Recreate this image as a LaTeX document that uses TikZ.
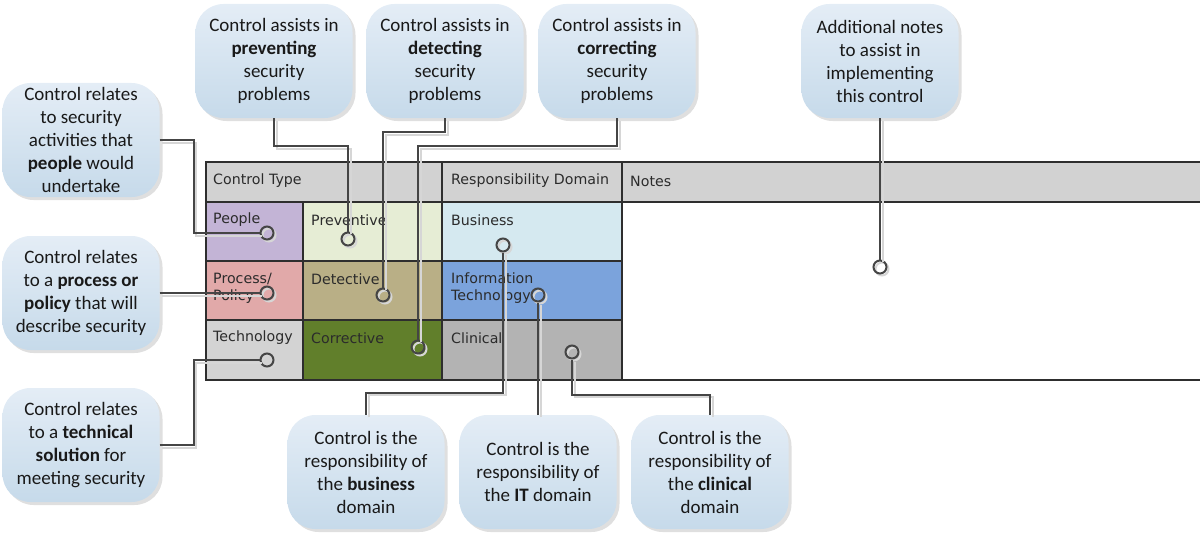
\documentclass[tikz,border=0pt]{standalone}
\usepackage{fontspec}
\setmainfont{Carlito}
\newfontfamily\tablefont{DejaVu Sans}
\usepackage{tikz}
\usetikzlibrary{shadows}
\definecolor{notetop}{HTML}{E4EDF6}
\definecolor{notebottom}{HTML}{C6DAEA}
\definecolor{wiregray}{HTML}{454545}
\definecolor{shadegray}{HTML}{D6D6D6}
\definecolor{gridgray}{HTML}{2E2E2E}
\definecolor{textgray}{HTML}{2B2B2B}
\definecolor{hdrgray}{HTML}{D2D2D2}
\definecolor{peoplefill}{HTML}{C3B4D6}
\definecolor{prevfill}{HTML}{E6EDD5}
\definecolor{busfill}{HTML}{D5E9F0}
\definecolor{procfill}{HTML}{E1A9A9}
\definecolor{detfill}{HTML}{B9AF86}
\definecolor{itfill}{HTML}{7BA3DC}
\definecolor{techfill}{HTML}{D3D3D3}
\definecolor{corrfill}{HTML}{617F2B}
\definecolor{clinfill}{HTML}{B3B3B3}
\tikzstyle{notebox} = [rectangle,rounded corners=28pt,minimum width=157pt,minimum height=114pt,inner sep=2pt,align=center,top color=notetop,bottom color=notebottom,draw=none,text=black!90,font=\fontsize{19}{23}\selectfont,drop shadow={shadow xshift=3pt,shadow yshift=-3pt,opacity=0.25,fill=black!50}]
\tikzstyle{spot} = [circle,draw=wiregray,line width=2pt,minimum size=13pt,inner sep=0pt,preaction={draw=shadegray,transform canvas={shift={(2pt,-2pt)}}}]
\tikzstyle{wire} = [draw=wiregray,line width=2pt,preaction={draw=shadegray,line width=2pt,transform canvas={shift={(2.5pt,-2.5pt)}}}]
\tikzstyle{grid} = [draw=gridgray,line width=1.3pt]
\tikzstyle{celltext} = [anchor=west,inner sep=0pt,align=left,text=textgray,font=\tablefont\fontsize{14.2}{17}\selectfont]

\begin{document}
\begin{tikzpicture}[x=1pt,y=-1pt]
\useasboundingbox (0,0) rectangle (1200,535);

% table cells
\fill[hdrgray] (206,162) rectangle (1200,202);
\fill[peoplefill] (206,202) rectangle (303,261);
\fill[prevfill] (303,202) rectangle (442,261);
\fill[busfill] (442,202) rectangle (622,261);
\fill[procfill] (206,261) rectangle (303,320);
\fill[detfill] (303,261) rectangle (442,320);
\fill[itfill] (442,261) rectangle (622,320);
\fill[techfill] (206,320) rectangle (303,380);
\fill[corrfill] (303,320) rectangle (442,380);
\fill[clinfill] (442,320) rectangle (622,380);

\draw[grid] (1200,162) -- (206,162) -- (206,380) -- (1200,380);
\draw[grid] (206,202) -- (1200,202);
\draw[grid] (206,261) -- (622,261);
\draw[grid] (206,320) -- (622,320);
\draw[grid] (303,202) -- (303,380);
\draw[grid] (442,162) -- (442,380);
\draw[grid] (622,162) -- (622,380);

\node (tType)  [celltext] at (213,181) {Control Type};
\node (tResp)  [celltext] at (451,181) {Responsibility Domain};
\node (tNotes) [celltext] at (630,181) {Notes};
\node (tPeople) [celltext] at (213,220) {People};
\node (tPrev)   [celltext] at (311,220) {Preventive};
\node (tBus)    [celltext] at (451,220) {Business};
\node (tProc)   [celltext] at (213,288) {Process/\\Policy};
\node (tDet)    [celltext] at (311,279) {Detective};
\node (tIT)     [celltext] at (451,288) {Information\\Technology};
\node (tTech)   [celltext] at (213,338) {Technology};
\node (tCorr)   [celltext] at (311,338) {Corrective};
\node (tClin)   [celltext] at (451,338) {Clinical};

% callouts
\node (cPeople) [notebox] at (81,140) {Control relates\\to security\\activities that\\\textbf{people} would\\undertake};
\node (cProc)   [notebox] at (81,293) {Control relates\\to a \textbf{process or}\\\textbf{policy} that will\\describe security};
\node (cTech)   [notebox] at (81,445) {Control relates\\to a \textbf{technical}\\\textbf{solution} for\\meeting security};
\node (cPrev)   [notebox] at (274,61) {Control assists in\\\textbf{preventing}\\security\\problems};
\node (cDet)    [notebox] at (445,61) {Control assists in\\\textbf{detecting}\\security\\problems};
\node (cCorr)   [notebox] at (617,61) {Control assists in\\\textbf{correcting}\\security\\problems};
\node (cNotes)  [notebox] at (880,61) {Additional notes\\to assist in\\implementing\\this control};
\node (cBus)    [notebox] at (366,472) {Control is the\\responsibility of\\the \textbf{business}\\domain};
\node (cIT)     [notebox] at (538,472) {Control is the\\responsibility of\\the \textbf{IT} domain};
\node (cClin)   [notebox] at (710,472) {Control is the\\responsibility of\\the \textbf{clinical}\\domain};

% spots
\node (pPeople) [spot] at (267,233) {};
\node (pProc)   [spot] at (267,293) {};
\node (pTech)   [spot] at (267,360) {};
\node (pPrev)   [spot] at (348,239) {};
\node (pDet)    [spot] at (383,295) {};
\node (pCorr)   [spot] at (418,347) {};
\node (pBus)    [spot] at (503,245) {};
\node (pIT)     [spot] at (538,295) {};
\node (pClin)   [spot] at (572,352) {};
\node (pNotes)  [spot] at (880,267) {};

% connectors
\draw[wire] (cPeople.east) -- ++(34,0) |- (pPeople);
\draw[wire] (cProc.east) -- (pProc);
\draw[wire] (cTech.east) -- ++(34,0) |- (pTech);
\draw[wire] (cPrev.south) -- ++(0,28) -| (pPrev);
\draw[wire] (cDet.south) -- ++(0,14) -| (pDet);
\draw[wire] (cCorr.south) -- ++(0,28) -| (pCorr);
\draw[wire] (cBus.north) -- ++(0,-22) -| (pBus);
\draw[wire] (cIT.north) -- (pIT);
\draw[wire] (cClin.north) -- ++(0,-20) -| (pClin);
\draw[wire] (cNotes.south) -- (pNotes);
\end{tikzpicture}
\end{document}
